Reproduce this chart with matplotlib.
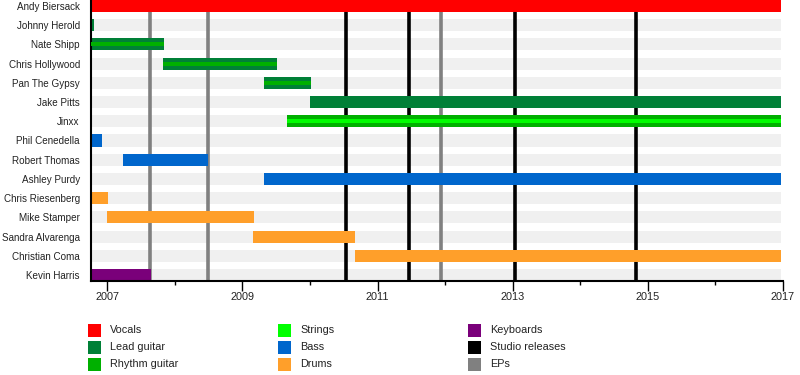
import matplotlib
matplotlib.use('Agg')
import matplotlib.pyplot as plt
import matplotlib.patches as patches

plt.rcParams['font.family'] = ['Liberation Sans', 'DejaVu Sans']

# 成员、起止时间（年份，小数）、角色
members = ['Andy Biersack', 'Johnny Herold', 'Nate Shipp', 'Chris Hollywood',
           'Pan The Gypsy', 'Jake Pitts', 'Jinxx', 'Phil Cenedella',
           'Robert Thomas', 'Ashley Purdy', 'Chris Riesenberg', 'Mike Stamper',
           'Sandra Alvarenga', 'Christian Coma', 'Kevin Harris']
starts = [2006.76, 2006.76, 2006.76, 2007.82, 2009.32, 2010.0, 2009.66, 2006.76,
          2007.23, 2009.32, 2006.76, 2007.0, 2009.15, 2010.66, 2006.76]
ends = [2016.97, 2006.81, 2007.84, 2009.51, 2010.01, 2016.97, 2016.97, 2006.92,
        2008.49, 2016.97, 2007.01, 2009.17, 2010.67, 2016.97, 2007.65]
main_role = ['Vocals', 'Lead guitar', 'Lead guitar', 'Lead guitar', 'Lead guitar',
             'Lead guitar', 'Rhythm guitar', 'Bass', 'Bass', 'Bass', 'Drums',
             'Drums', 'Drums', 'Drums', 'Keyboards']
second_role = [None, None, 'Rhythm guitar', 'Rhythm guitar', 'Rhythm guitar',
               None, 'Strings', None, None, None, None, None, None, None, None]

studio_releases = [2010.54, 2011.46, 2013.03, 2014.83]
eps = [2007.63, 2008.49, 2011.94]

legend_labels = ['Vocals', 'Lead guitar', 'Rhythm guitar', 'Strings', 'Bass',
                 'Drums', 'Keyboards', 'Studio releases', 'EPs']

colors = {
    'Vocals': '#ff0000',
    'Lead guitar': '#008037',
    'Rhythm guitar': '#00b000',
    'Strings': '#00ff00',
    'Bass': '#0066cc',
    'Drums': '#ff9f2a',
    'Keyboards': '#7a007a',
    'Studio releases': '#000000',
    'EPs': '#808080',
}

x0, x1 = 2006.76, 2017.0
bar_end = 2016.97
bar_h = 0.625

fig = plt.figure(figsize=(8, 3.75), dpi=100)
ax = fig.add_axes([91 / 800, 94 / 375, 692 / 800, 281 / 375])

# 背景条纹
for i in range(len(members)):
    ax.add_patch(patches.Rectangle((x0, i - bar_h / 2), bar_end - x0, bar_h,
                                   facecolor='#f0f0f0', edgecolor='none', zorder=0))

# 发行竖线
for x in studio_releases:
    ax.axvline(x, color=colors['Studio releases'], lw=2.6, zorder=1)
for x in eps:
    ax.axvline(x, color=colors['EPs'], lw=2.6, zorder=1)

# 成员条
for i, name in enumerate(members):
    s, e = starts[i], ends[i]
    ax.add_patch(patches.Rectangle((s, i - bar_h / 2), e - s, bar_h,
                                   facecolor=colors[main_role[i]], edgecolor='none', zorder=2))
    if second_role[i]:
        ax.add_patch(patches.Rectangle((s, i - bar_h / 6), e - s, bar_h / 3,
                                       facecolor=colors[second_role[i]], edgecolor='none', zorder=3))

ax.set_xlim(x0, x1)
ax.set_ylim(14 + bar_h / 2, -bar_h / 2)
ax.set_yticks(range(len(members)))
ax.set_yticklabels(members, fontsize=7.1, color='#222222')
ax.tick_params(axis='y', length=0, pad=8)
ax.set_xticks(range(2007, 2018, 2))
ax.set_xticks(range(2008, 2017, 2), minor=True)
ax.tick_params(axis='x', which='major', length=7, width=1, labelsize=7.8,
               labelcolor='#222222', pad=1)
ax.tick_params(axis='x', which='minor', length=3, width=1)
for side in ['top', 'right']:
    ax.spines[side].set_visible(False)
for side in ['left', 'bottom']:
    ax.spines[side].set_linewidth(1.5)
ax.set_facecolor('white')

# 图例
col_x = [88, 278, 468]
row_y = [330, 347, 364]
for k, lab in enumerate(legend_labels):
    cx = col_x[k // 3]
    cy = row_y[k % 3]
    fig.patches.append(patches.Rectangle((cx / 800, (375 - cy - 6.5) / 375), 13 / 800, 13 / 375,
                                         transform=fig.transFigure, facecolor=colors[lab],
                                         edgecolor='none'))
    fig.text((cx + 22) / 800, (375 - cy) / 375, lab, fontsize=7.8, color='#222222',
             va='center', ha='left')

fig.savefig('out.png', dpi=100)
